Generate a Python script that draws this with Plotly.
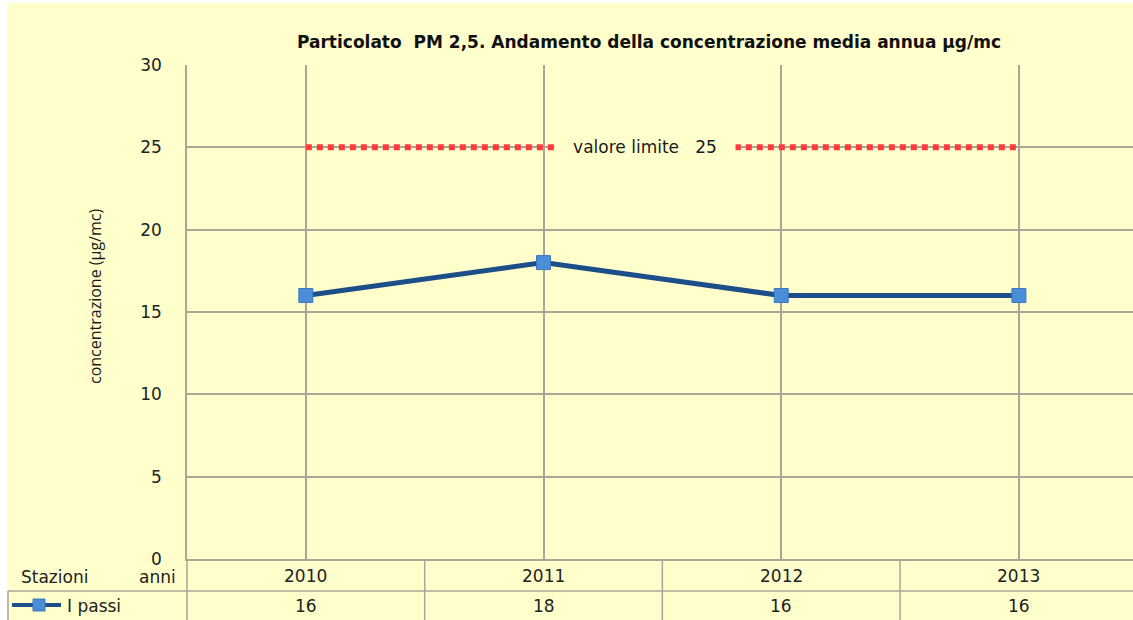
import plotly.graph_objects as go

years = ["2010", "2011", "2012", "2013"]
station = "I passi"
values = [16, 18, 16, 16]
limit_value = 25
limit_label = "valore limite   25"
y_ticks = [0, 5, 10, 15, 20, 25, 30]

W, H = 1133, 620
L, R, T, B = 187, 0, 65, 61
PW, PH = W - L - R, H - T - B
X_RANGE = [-0.5, 3.48]

BG = "#FFFFCC"
GRID = "#A9A699"
TXT = "#222222"
LINE = "#1C4E8A"
MARK = "#4A8ED8"


def px_x(px):
    return (px - L) / PW


def px_y(py):
    return (H - B - py) / PH


def cat_x(i):
    return (i - X_RANGE[0]) / (X_RANGE[1] - X_RANGE[0])


fig = go.Figure()

# limit line
fig.add_trace(go.Scatter(
    x=[years[0], years[-1]], y=[limit_value, limit_value], mode="lines",
    line=dict(color="#FF3B3B", width=6, dash="6px,5px"),
    hoverinfo="skip", showlegend=False))

# data series
fig.add_trace(go.Scatter(
    x=years, y=values, mode="lines+markers", name=station,
    line=dict(color=LINE, width=5),
    marker=dict(symbol="square", size=14, color=MARK,
                line=dict(color="#3B78BE", width=1)),
    showlegend=False))

shapes = []
ann = []

# white frame strips at top/left
shapes.append(dict(type="rect", xref="paper", yref="paper",
                   x0=px_x(-5), x1=px_x(7), y0=px_y(H + 5), y1=px_y(-5),
                   fillcolor="white", line_width=0, layer="below"))
shapes.append(dict(type="rect", xref="paper", yref="paper",
                   x0=px_x(-5), x1=px_x(W + 5), y0=px_y(3), y1=px_y(-5),
                   fillcolor="white", line_width=0, layer="below"))

# data table below the plot
row1_bot = px_y(591)
row2_bot = px_y(H + 2)
gl = dict(color=GRID, width=1.5)
shapes.append(dict(type="line", xref="paper", yref="paper",
                   x0=px_x(8), x1=1.01, y0=row1_bot, y1=row1_bot, line=gl))
shapes.append(dict(type="line", xref="paper", yref="paper",
                   x0=0, x1=0, y0=0, y1=row2_bot, line=gl))
shapes.append(dict(type="line", xref="paper", yref="paper",
                   x0=px_x(8), x1=px_x(8), y0=row1_bot, y1=row2_bot, line=gl))
for i in range(len(years) - 1):
    xb = cat_x(i + 0.5)
    shapes.append(dict(type="line", xref="paper", yref="paper",
                       x0=xb, x1=xb, y0=0, y1=row2_bot, line=gl))

tf = dict(family="DejaVu Sans", size=17, color=TXT)
for i, (yr, v) in enumerate(zip(years, values)):
    ann.append(dict(x=cat_x(i), y=px_y(576), xref="paper", yref="paper", text=yr,
                    showarrow=False, font=tf, xanchor="center", yanchor="middle"))
    ann.append(dict(x=cat_x(i), y=px_y(606), xref="paper", yref="paper", text=str(v),
                    showarrow=False, font=tf, xanchor="center", yanchor="middle"))

ann.append(dict(x=px_x(19), y=px_y(577), xref="paper", yref="paper", text="Stazioni",
                showarrow=False, font=tf, xanchor="left", yanchor="middle"))
ann.append(dict(x=px_x(178), y=px_y(577), xref="paper", yref="paper", text="anni",
                showarrow=False, font=tf, xanchor="right", yanchor="middle"))
ann.append(dict(x=px_x(65), y=px_y(606), xref="paper", yref="paper", text=station,
                showarrow=False, font=tf, xanchor="left", yanchor="middle"))

# legend key in table
shapes.append(dict(type="line", xref="paper", yref="paper",
                   x0=px_x(12), x1=px_x(61), y0=px_y(605), y1=px_y(605),
                   line=dict(color=LINE, width=4)))
shapes.append(dict(type="rect", xref="paper", yref="paper",
                   x0=px_x(33), x1=px_x(45), y0=px_y(611), y1=px_y(599),
                   fillcolor=MARK, line=dict(color="#3B78BE", width=1)))

# limit label with background hiding the middle of the dotted line
ann.append(dict(x=px_x(645), y=limit_value, xref="paper", yref="y",
                text=limit_label, showarrow=False, width=172, align="center",
                bgcolor=BG, borderpad=4,
                font=dict(family="DejaVu Sans", size=17, color="#1A1A1A"),
                xanchor="center", yanchor="middle"))

# y axis title
ann.append(dict(x=px_x(95), y=px_y(297), xref="paper", yref="paper",
                text="concentrazione (µg/mc)", textangle=-90, showarrow=False,
                font=dict(family="Open Sans", size=16, color="#1A1A1A"),
                xanchor="center", yanchor="middle"))

fig.update_layout(
    width=W, height=H,
    margin=dict(l=L, r=R, t=T, b=B),
    paper_bgcolor=BG, plot_bgcolor=BG,
    title=dict(text="<b>Particolato  PM 2,5. Andamento della concentrazione media annua µg/mc</b>",
               x=649 / W, xref="container", xanchor="center",
               y=1 - 42 / H, yref="container", yanchor="middle",
               font=dict(family="DejaVu Sans", size=17, color="#111111")),
    xaxis=dict(type="category", categoryorder="array", categoryarray=years,
               range=X_RANGE, showgrid=True, gridcolor=GRID, gridwidth=1.5,
               showticklabels=False, ticks="", zeroline=False,
               showline=True, linecolor=GRID, linewidth=1.5, fixedrange=True),
    yaxis=dict(range=[0, 30], tickvals=y_ticks, showgrid=True, gridcolor=GRID,
               gridwidth=1.5, zeroline=False, showline=True, linecolor=GRID,
               linewidth=1.5, ticks="", ticklabelstandoff=20,
               tickfont=dict(family="DejaVu Sans", size=17, color=TXT),
               fixedrange=True),
    shapes=shapes, annotations=ann, showlegend=False,
)

fig.write_html("out.html", config={"displayModeBar": False},
               post_script="document.body.style.margin='0px';document.body.style.overflow='hidden';")
